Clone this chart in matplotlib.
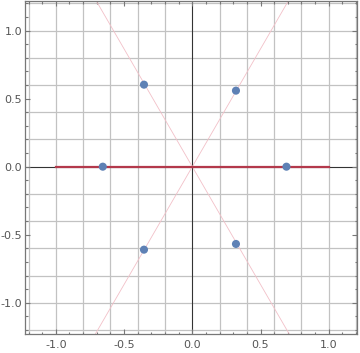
import numpy as np
import matplotlib
matplotlib.use("Agg")
import matplotlib.pyplot as plt
from matplotlib.ticker import MultipleLocator, FormatStrFormatter

# data
pts_x = [-0.656, 0.69, -0.354, 0.32, -0.354, 0.32]
pts_y = [0.0, 0.0, 0.603, 0.559, -0.61, -0.568]
seg_x = [-1.0, 1.0]
seg_y = [0.0, 0.0]
slopes = [np.sqrt(3), -np.sqrt(3)]
xlim = (-1.226, 1.207)
ylim = (-1.23, 1.218)

fig = plt.figure(figsize=(3.6, 3.53), dpi=100)
ax = fig.add_axes([25/360, 19/353, 332/360, 333/353])
ax.set_xlim(*xlim)
ax.set_ylim(*ylim)

# grid
for g in np.arange(-1.2, 1.21, 0.2):
    if abs(g) < 1e-9:
        continue
    ax.axvline(g, color='#c2c2c2', lw=0.9, zorder=0)
    ax.axhline(g, color='#c2c2c2', lw=0.9, zorder=0)
ax.axvline(0, color='#333333', lw=0.8, zorder=1)
ax.axhline(0, color='#333333', lw=0.8, zorder=1)

xs = np.array(xlim)
for s in slopes:
    ax.plot(xs, s * xs, color='#f2c0c8', lw=0.6, zorder=2)

ax.plot(seg_x, seg_y, color='#b3394b', lw=1.6, zorder=3)
ax.scatter(pts_x, pts_y, s=34, color='#5e81b5', zorder=4, edgecolors='none')

ax.xaxis.set_major_locator(MultipleLocator(0.5))
ax.yaxis.set_major_locator(MultipleLocator(0.5))
ax.xaxis.set_minor_locator(MultipleLocator(0.1))
ax.yaxis.set_minor_locator(MultipleLocator(0.1))
ax.xaxis.set_major_formatter(FormatStrFormatter('%.1f'))
ax.yaxis.set_major_formatter(FormatStrFormatter('%.1f'))
ax.tick_params(which='both', direction='in', top=True, right=True, color='#777777',
               labelcolor='#555555', labelsize=8, width=0.8)
ax.tick_params(which='major', length=3.5)
ax.tick_params(which='minor', length=1.8)
for sp in ax.spines.values():
    sp.set_color('#777777')
    sp.set_linewidth(0.9)
ax.tick_params(axis='x', pad=4)
ax.tick_params(axis='y', pad=2)

fig.savefig('out.png', dpi=100)
